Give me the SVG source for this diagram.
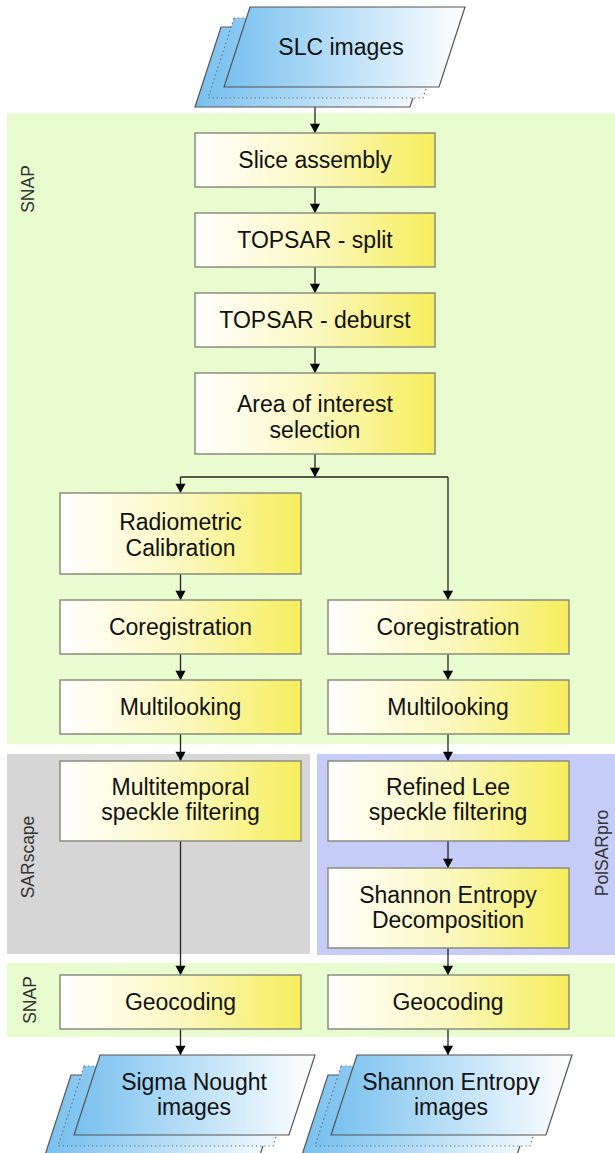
<svg xmlns="http://www.w3.org/2000/svg" width="615" height="1153" viewBox="0 0 615 1153">
<defs>
<linearGradient id="yel" x1="0" y1="0" x2="1" y2="0">
<stop offset="0" stop-color="#ffffff"/>
<stop offset="0.5" stop-color="#fbf8c0"/>
<stop offset="1" stop-color="#f6ee5c"/>
</linearGradient>
<linearGradient id="blu" x1="0" y1="0" x2="1" y2="0">
<stop offset="0" stop-color="#78c0ef"/>
<stop offset="1" stop-color="#ffffff"/>
</linearGradient>
<marker id="ah" viewBox="0 0 10 12" refX="10" refY="6" markerWidth="11" markerHeight="11" markerUnits="userSpaceOnUse" orient="auto">
<path d="M0,0.5 L10,6 L0,11.5 Z" fill="#000"/>
</marker>
<path id="para" d="M26,0 L241,0 L215,80 L0,80 Z"/>
</defs>
<style>
.box{fill:url(#yel);stroke:#8c8c80;stroke-width:1.5}
.t{font-family:"Liberation Sans",Arial,sans-serif;font-size:23px;fill:#111;text-anchor:middle}
.lbl{font-family:"Liberation Sans",Arial,sans-serif;font-size:17.5px;fill:#333;text-anchor:middle}
.pf{fill:url(#blu);stroke:#555;stroke-width:1.2}
.pd{fill:url(#blu);stroke:#666;stroke-width:1.2;stroke-dasharray:1.2,3}
.c{fill:none;stroke:#222;stroke-width:1.3}
.ca{fill:none;stroke:#222;stroke-width:1.3;marker-end:url(#ah)}
</style>

<g id="regions">
<rect x="7" y="113" width="608" height="631" fill="#e9fcd0"/>
<rect x="7" y="754" width="303" height="200" fill="#d6d6d6"/>
<rect x="317" y="754" width="298" height="201" fill="#c6ccf8"/>
<rect x="7" y="963" width="608" height="74" fill="#e9fcd0"/>
<text class="lbl" transform="translate(34,189) rotate(-90)">SNAP</text>
<text class="lbl" transform="translate(34,857) rotate(-90)">SARscape</text>
<text class="lbl" transform="translate(608,853) rotate(-90)">PolSARpro</text>
<text class="lbl" transform="translate(36,1000) rotate(-90)">SNAP</text>
</g>

<g id="connectors">
<line class="ca" x1="315" y1="107" x2="315" y2="133"/>
<line class="ca" x1="315" y1="187" x2="315" y2="213"/>
<line class="ca" x1="315" y1="267" x2="315" y2="293"/>
<line class="ca" x1="315" y1="347" x2="315" y2="373"/>
<line class="ca" x1="315" y1="454" x2="315" y2="477"/>
<polyline class="c" points="180.5,477 448,477"/>
<line class="ca" x1="180.5" y1="477" x2="180.5" y2="493"/>
<line class="ca" x1="448" y1="477" x2="448" y2="600"/>
<line class="ca" x1="180.5" y1="574" x2="180.5" y2="600"/>
<line class="ca" x1="180.5" y1="654" x2="180.5" y2="680"/>
<line class="ca" x1="180.5" y1="734" x2="180.5" y2="761"/>
<line class="ca" x1="180.5" y1="841" x2="180.5" y2="975"/>
<line class="ca" x1="180.5" y1="1029" x2="180.5" y2="1055"/>
<line class="ca" x1="448" y1="654" x2="448" y2="680"/>
<line class="ca" x1="448" y1="734" x2="448" y2="761"/>
<line class="ca" x1="448" y1="841" x2="448" y2="868"/>
<line class="ca" x1="448" y1="948" x2="448" y2="975"/>
<line class="ca" x1="448" y1="1029" x2="448" y2="1055"/>
</g>

<g id="slc-images">
<use href="#para" class="pf" transform="translate(195,27)"/>
<use href="#para" class="pd" transform="translate(208,18)"/>
<use href="#para" class="pf" transform="translate(224,7)"/>
<text class="t" x="341" y="55">SLC images</text>
</g>

<g id="slice-assembly">
<rect class="box" x="195" y="133" width="240" height="54"/>
<text class="t" x="315" y="168">Slice assembly</text>
</g>
<g id="topsar-split">
<rect class="box" x="195" y="213" width="240" height="54"/>
<text class="t" x="315" y="248">TOPSAR - split</text>
</g>
<g id="topsar-deburst">
<rect class="box" x="195" y="293" width="240" height="54"/>
<text class="t" x="315" y="328">TOPSAR - deburst</text>
</g>
<g id="area-of-interest">
<rect class="box" x="195" y="373" width="240" height="81"/>
<text class="t" x="315" y="412">Area of interest</text>
<text class="t" x="315" y="438">selection</text>
</g>

<g id="radiometric-calibration">
<rect class="box" x="60" y="493" width="241" height="81"/>
<text class="t" x="180.5" y="530">Radiometric</text>
<text class="t" x="180.5" y="556">Calibration</text>
</g>
<g id="coregistration-left">
<rect class="box" x="60" y="600" width="241" height="54"/>
<text class="t" x="180.5" y="635">Coregistration</text>
</g>
<g id="multilooking-left">
<rect class="box" x="60" y="680" width="241" height="54"/>
<text class="t" x="180.5" y="715">Multilooking</text>
</g>
<g id="multitemporal-filtering">
<rect class="box" x="60" y="761" width="241" height="80"/>
<text class="t" x="180.5" y="795">Multitemporal</text>
<text class="t" x="180.5" y="820">speckle filtering</text>
</g>
<g id="geocoding-left">
<rect class="box" x="60" y="975" width="241" height="54"/>
<text class="t" x="180.5" y="1010">Geocoding</text>
</g>

<g id="coregistration-right">
<rect class="box" x="328" y="600" width="241" height="54"/>
<text class="t" x="448" y="635">Coregistration</text>
</g>
<g id="multilooking-right">
<rect class="box" x="328" y="680" width="241" height="54"/>
<text class="t" x="448" y="715">Multilooking</text>
</g>
<g id="refined-lee">
<rect class="box" x="328" y="761" width="241" height="80"/>
<text class="t" x="448" y="795">Refined Lee</text>
<text class="t" x="448" y="820">speckle filtering</text>
</g>
<g id="shannon-decomposition">
<rect class="box" x="328" y="868" width="241" height="80"/>
<text class="t" x="448" y="903">Shannon Entropy</text>
<text class="t" x="448" y="928">Decomposition</text>
</g>
<g id="geocoding-right">
<rect class="box" x="328" y="975" width="241" height="54"/>
<text class="t" x="448" y="1010">Geocoding</text>
</g>

<g id="sigma-nought-images">
<use href="#para" class="pf" transform="translate(45,1075)"/>
<use href="#para" class="pd" transform="translate(58,1066)"/>
<use href="#para" class="pf" transform="translate(74,1055)"/>
<text class="t" x="194" y="1090">Sigma Nought</text>
<text class="t" x="194" y="1115">images</text>
</g>

<g id="shannon-entropy-images">
<use href="#para" class="pf" transform="translate(302,1075)"/>
<use href="#para" class="pd" transform="translate(315,1066)"/>
<use href="#para" class="pf" transform="translate(331,1055)"/>
<text class="t" x="451" y="1090">Shannon Entropy</text>
<text class="t" x="451" y="1115">images</text>
</g>
</svg>
